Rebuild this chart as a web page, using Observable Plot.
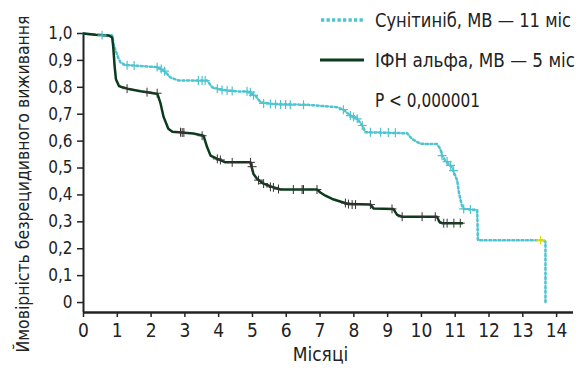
<!DOCTYPE html>
<html>
<head>
<meta charset="utf-8">
<script src="https://cdn.jsdelivr.net/npm/d3@7"></script>
<script src="https://cdn.jsdelivr.net/npm/@observablehq/plot@0.6"></script>
<style>
  html, body { margin: 0; padding: 0; background: #fff; }
  #wrap { position: relative; width: 582px; height: 370px; font-family: "Liberation Sans Narrow", "DejaVu Sans Condensed", "Roboto", sans-serif; color: #222; }
  .leg { position: absolute; left: 320px; display: flex; align-items: center; font-size: 19px; white-space: nowrap; }
  .leg svg { margin-right: 11px; flex: none; }
  .leg span { display: inline-block; transform-origin: left center; }
</style>
</head>
<body>
<div id="wrap"></div>
<script>
// Series names
const seriesNames = ["Сунітиніб, МВ — 11 міс", "ІФН альфа, МВ — 5 міс"];
const pText = "P < 0,000001";

// Sunitinib survival curve (months, probability)
const sunMonths = [0, 0.3, 0.85, 0.89, 1.0, 1.09, 1.24, 1.48, 2.18, 2.38, 2.57, 2.82, 3.66, 3.81, 4.14, 4.64, 4.84, 5.09, 5.24, 5.62, 6.62, 7.51, 7.69, 7.9, 8.1, 8.25, 8.34, 9.58, 9.72, 9.97, 10.46, 10.56, 10.61, 10.71, 10.91, 10.96, 11.06, 11.1, 11.15, 11.2, 11.25, 11.65, 11.67, 13.62, 13.67, 13.67];
const sunSurv   = [1.0, 0.995, 0.993, 0.96, 0.918, 0.893, 0.883, 0.881, 0.875, 0.862, 0.837, 0.825, 0.825, 0.80, 0.79, 0.784, 0.785, 0.769, 0.744, 0.738, 0.735, 0.726, 0.717, 0.695, 0.683, 0.658, 0.633, 0.629, 0.608, 0.59, 0.589, 0.571, 0.546, 0.527, 0.502, 0.484, 0.453, 0.416, 0.385, 0.36, 0.348, 0.344, 0.232, 0.232, 0.225, 0.0];

// IFN alfa survival curve
const ifnMonths = [0, 0.36, 0.74, 0.85, 0.88, 0.92, 0.96, 1.05, 1.15, 1.3, 1.69, 1.98, 2.19, 2.28, 2.37, 2.51, 2.63, 2.81, 3.25, 3.55, 3.66, 3.76, 3.96, 4.2, 4.94, 5.03, 5.14, 5.33, 5.62, 5.83, 6.91, 7.01, 7.16, 7.36, 7.69, 7.84, 8.49, 8.58, 9.17, 9.28, 9.43, 10.46, 10.53, 10.61, 11.2];
const ifnSurv   = [1.0, 0.995, 0.993, 0.985, 0.95, 0.88, 0.83, 0.805, 0.80, 0.795, 0.785, 0.78, 0.775, 0.74, 0.69, 0.646, 0.635, 0.633, 0.628, 0.62, 0.577, 0.546, 0.534, 0.521, 0.521, 0.478, 0.459, 0.442, 0.428, 0.42, 0.42, 0.409, 0.397, 0.385, 0.372, 0.366, 0.364, 0.35, 0.348, 0.326, 0.319, 0.319, 0.30, 0.295, 0.295];

// Censoring marks
const sunCensMonths = [0.55, 1.29, 1.5, 2.18, 2.3, 2.4, 3.4, 3.51, 3.6, 3.96, 4.1, 4.25, 4.4, 4.84, 4.94, 5.03, 5.33, 5.53, 5.68, 5.83, 5.98, 6.12, 6.51, 7.69, 7.9, 7.99, 8.1, 8.25, 8.49, 8.79, 9.02, 9.23, 10.61, 10.76, 10.86, 10.95, 11.25, 11.45];
const sunCensSurv   = [0.994, 0.882, 0.881, 0.875, 0.868, 0.86, 0.825, 0.825, 0.825, 0.795, 0.79, 0.788, 0.786, 0.785, 0.782, 0.77, 0.74, 0.738, 0.737, 0.736, 0.736, 0.735, 0.735, 0.717, 0.695, 0.69, 0.683, 0.658, 0.633, 0.633, 0.632, 0.631, 0.546, 0.524, 0.51, 0.49, 0.348, 0.346];
const ifnCensMonths = [1.29, 1.88, 2.18, 2.87, 2.92, 2.97, 3.51, 3.96, 4.05, 4.4, 4.94, 4.99, 5.18, 5.33, 5.53, 5.62, 5.77, 6.21, 6.47, 6.51, 6.91, 7.75, 7.84, 7.95, 8.05, 8.49, 9.13, 9.43, 10.02, 10.41, 10.66, 10.76, 10.96, 11.15];
const ifnCensSurv   = [0.795, 0.782, 0.778, 0.633, 0.632, 0.632, 0.62, 0.534, 0.53, 0.521, 0.521, 0.505, 0.455, 0.442, 0.43, 0.428, 0.422, 0.42, 0.42, 0.42, 0.42, 0.37, 0.366, 0.364, 0.364, 0.364, 0.348, 0.319, 0.319, 0.319, 0.295, 0.295, 0.295, 0.295];
const flagMonths = [13.52];
const flagSurv = [0.232];

// Ticks
const xTicks = [0,1,2,3,4,5,6,7,8,9,10,11,12,13,14];
const yTicks = [0,0.1,0.2,0.3,0.4,0.5,0.6,0.7,0.8,0.9,1.0];
const xLabel = "Місяці";
const yLabel = "Ймовірність безрецидивного виживання";

const cyan = "#4ec4d0";
const green = "#0b3b1b";
const yMin = -0.037;

const toRows = (ms, ss) => ms.map((m, i) => ({m, s: ss[i]}));
const sun = toRows(sunMonths, sunSurv);
const ifn = toRows(ifnMonths, ifnSurv);
const sunC = toRows(sunCensMonths, sunCensSurv);
const ifnC = toRows(ifnCensMonths, ifnCensSurv);
const flags = toRows(flagMonths, flagSurv);
const fmt = d => d === 0 ? "0" : d.toFixed(1).replace(".", ",");

const chart = Plot.plot({
  width: 582,
  height: 370,
  marginLeft: 83,
  marginRight: 9,
  marginTop: 33,
  marginBottom: 58,
  x: {domain: [0, 14.5]},
  y: {domain: [yMin, 1]},
  style: {fontFamily: '"Liberation Sans Narrow", "DejaVu Sans Condensed", sans-serif', color: "#222", background: "#fff"},
  marks: [
    Plot.axisY(yTicks, {tickSize: 6, tickPadding: 5, tickFormat: fmt, fontSize: 17, label: null, stroke: "#222", strokeWidth: 1.5}),
    Plot.axisX(xTicks, {tickSize: 5, tickPadding: 6, fontSize: 19, label: null, stroke: "#222", strokeWidth: 1.5}),
    Plot.ruleX([0], {stroke: "#222", strokeWidth: 2}),
    Plot.ruleY([yMin], {stroke: "#222", strokeWidth: 2.5}),
    Plot.line(sun, {x: "m", y: "s", stroke: cyan, strokeWidth: 2.5, strokeDasharray: "2,2.6"}),
    Plot.line(ifn, {x: "m", y: "s", stroke: green, strokeWidth: 2.5}),
    Plot.dot(sunC, {x: "m", y: "s", symbol: "plus", r: 3, stroke: cyan, strokeWidth: 1.2}),
    Plot.dot(ifnC, {x: "m", y: "s", symbol: "plus", r: 3, stroke: "#333", strokeWidth: 1}),
    Plot.dot(flags, {x: "m", y: "s", symbol: "plus", r: 3, stroke: "#e8e000", strokeWidth: 1.2}),
    Plot.text([yLabel], {frameAnchor: "left", textAnchor: "middle", rotate: -90, dx: -60, dy: 11, fontSize: 17.5, fill: "#222"}),
    Plot.text([xLabel], {frameAnchor: "bottom", textAnchor: "middle", dx: -8, dy: 48, fontSize: 19, fill: "#222"})
  ]
});

const wrap = document.getElementById("wrap");
wrap.appendChild(chart);

// Fit the long rotated axis title to the reference's length
for (const t of chart.querySelectorAll("text")) {
  if (t.textContent === yLabel) {
    t.setAttribute("textLength", "337");
    t.setAttribute("lengthAdjust", "spacingAndGlyphs");
  }
}

function fitSpan(span, target) {
  const w = span.getBoundingClientRect().width;
  if (w > 0) span.style.transform = `scaleX(${target / w})`;
}
function legendItem(top, label, sample, target, left) {
  const d = document.createElement("div");
  d.className = "leg";
  if (left != null) d.style.left = left + "px";
  d.style.top = (top - 12) + "px";
  d.style.height = "24px";
  d.innerHTML = sample + `<span>${label}</span>`;
  wrap.appendChild(d);
  fitSpan(d.querySelector("span"), target);
}
legendItem(20, seriesNames[0], `<svg width="44" height="6"><line x1="1" x2="44" y1="3" y2="3" stroke="${cyan}" stroke-width="3.5" stroke-dasharray="3.3,2.2"/></svg>`, 196);
legendItem(60, seriesNames[1], `<svg width="44" height="6"><line x1="0" x2="44" y1="3" y2="3" stroke="${green}" stroke-width="3"/></svg>`, 200);
legendItem(100, pText, "", 105, 375);
</script>
</body>
</html>
